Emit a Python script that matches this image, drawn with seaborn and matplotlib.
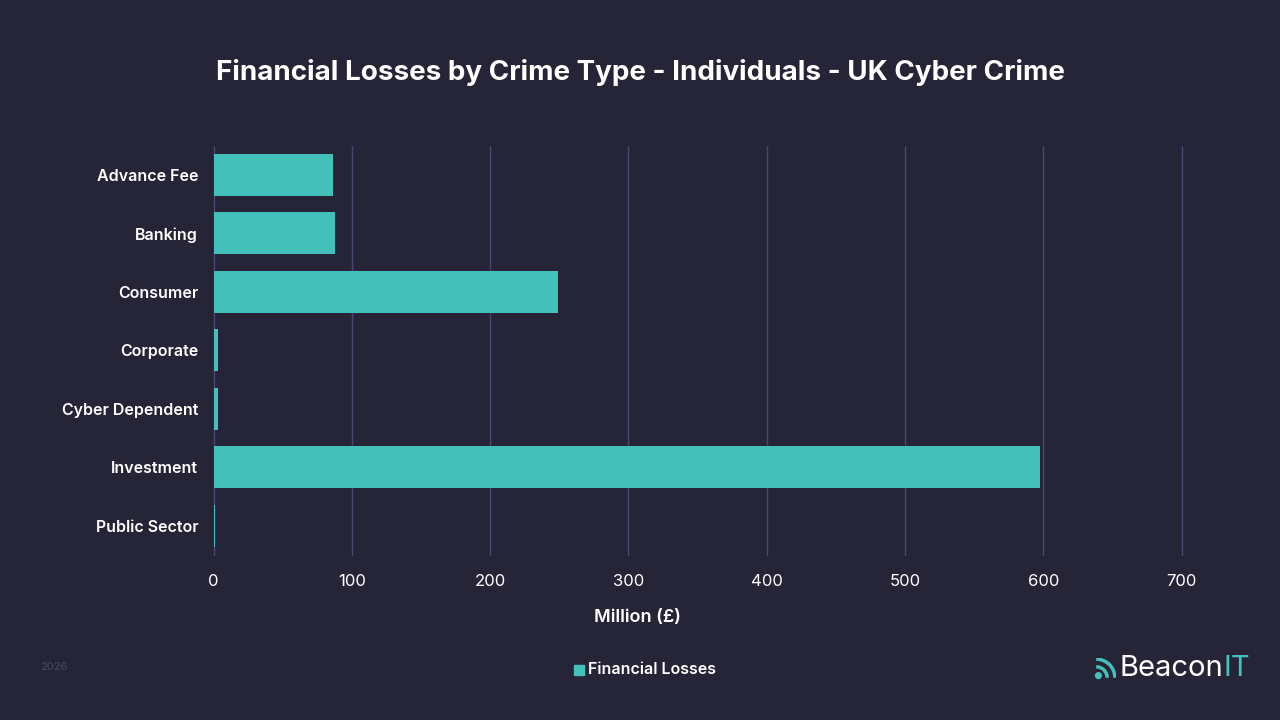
import matplotlib
matplotlib.use("Agg")
import matplotlib.pyplot as plt
from matplotlib.patches import Arc, Circle, Rectangle
import seaborn as sns
import pandas as pd

# --- DATA ---
crime_types = ['Advance Fee', 'Banking', 'Consumer', 'Corporate',
               'Cyber Dependent', 'Investment', 'Public Sector']
losses_million = [86.6, 88.0, 249.0, 3.3, 3.3, 598.0, 1.0]
x_ticks = [0, 100, 200, 300, 400, 500, 600, 700]

df = pd.DataFrame({'crime_type': crime_types, 'losses': losses_million})

# --- STYLE ---
BG = '#252537'
BAR = '#43c0b9'
GRID = '#4a4670'
TEXT = '#ffffff'

sns.set_theme(style='dark')
plt.rcParams['font.family'] = ['Inter', 'DejaVu Sans']

fig = plt.figure(figsize=(12.8, 7.2), dpi=100, facecolor=BG)
ax = fig.add_axes([213.5 / 1280, 1 - 555 / 720, 968 / 1280, 409.5 / 720])
ax.set_facecolor(BG)

sns.barplot(data=df, x='losses', y='crime_type', orient='h',
            color=BAR, saturation=1, width=0.72, linewidth=0, ax=ax, zorder=3)

ax.set_xlim(0, 700)
ax.set_ylim(6.5, -0.5)
ax.set_xticks(x_ticks)
ax.set_xticklabels([str(t) for t in x_ticks], color=TEXT, fontsize=12)
ax.tick_params(axis='y', colors=TEXT, labelsize=11.5, length=0, pad=11)
ax.tick_params(axis='x', colors=TEXT, length=0, pad=14)
for lbl in ax.get_yticklabels():
    lbl.set_fontweight('semibold')
for t in x_ticks:
    ax.axvline(t, color=GRID, lw=1, zorder=1, clip_on=False)
ax.grid(False)
for s in ax.spines.values():
    s.set_visible(False)

ax.set_ylabel('')
ax.set_xlabel('')
fig.text(637 / 1280, 1 - 618 / 720, 'Million (£)', ha='center', va='center',
         color=TEXT, fontsize=13, fontweight='semibold')

fig.text(0.5, 1 - 73 / 720, 'Financial Losses by Crime Type - Individuals - UK Cyber Crime',
         ha='center', va='center', color=TEXT, fontsize=20, fontweight='bold')

# legend
fig.patches.append(Rectangle((574 / 1280, 1 - 675 / 720), 10 / 1280, 10 / 720,
                             transform=fig.transFigure, color=BAR))
fig.text(588 / 1280, 1 - 669 / 720, 'Financial Losses', ha='left', va='center',
         color=TEXT, fontsize=11.5, fontweight='semibold')

# year note
fig.text(40 / 1280, 1 - 667 / 720, '2026', ha='left', va='center',
         color='#4b4866', fontsize=8)

# logo
t1 = fig.text(1119 / 1280, 1 - 668 / 720, 'Beacon', ha='left', va='center',
              color=TEXT, fontsize=21)
fig.canvas.draw()
bb = t1.get_window_extent()
fig.text(bb.x1 / 1280 + 0.5 / 1280, 1 - 668 / 720, 'IT', ha='left', va='center',
         color=BAR, fontsize=21)
lax = fig.add_axes([1094 / 1280, 1 - 680 / 720, 22 / 1280, 22 / 720])
lax.set_xlim(0, 1)
lax.set_ylim(0, 1)
lax.axis('off')
lax.add_patch(Circle((0.2, 0.2), 0.13, color=BAR))
for r in (0.5, 0.85):
    lax.add_patch(Arc((0.1, 0.1), 2 * r, 2 * r, theta1=0, theta2=90,
                      color=BAR, lw=2.5))

fig.savefig('out.png', dpi=100, facecolor=BG)
